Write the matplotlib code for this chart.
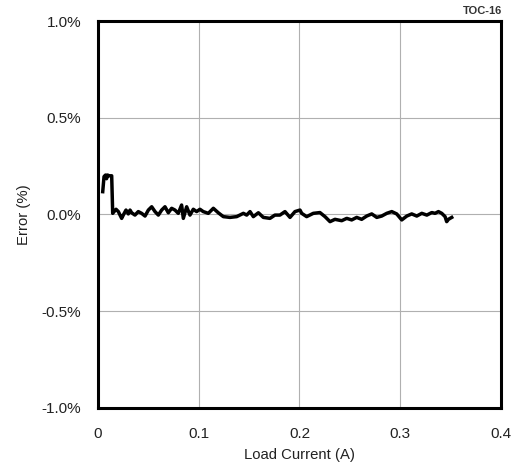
import matplotlib

matplotlib.use("Agg")

import matplotlib.pyplot as plt

plt.rcParams["font.family"] = ["Liberation Sans", "DejaVu Sans"]

# load current (A) and error (%)
current = [
    0.0047, 0.0060, 0.0075, 0.0085, 0.0095, 0.0110, 0.0136, 0.0146,
    0.0179, 0.0202, 0.0235, 0.0251, 0.0278, 0.0301, 0.0318, 0.0334,
    0.0367, 0.0400, 0.0433, 0.0467, 0.0500, 0.0533, 0.0566, 0.0599,
    0.0632, 0.0665, 0.0698, 0.0731, 0.0764, 0.0797, 0.0830, 0.0847,
    0.0880, 0.0913, 0.0946, 0.0979, 0.1012, 0.1045, 0.1095, 0.1145,
    0.1194, 0.1244, 0.1310, 0.1377, 0.1443, 0.1476, 0.1509, 0.1542,
    0.1592, 0.1641, 0.1707, 0.1756, 0.1806, 0.1856, 0.1906, 0.1955,
    0.2005, 0.2022, 0.2071, 0.2137, 0.2203, 0.2253, 0.2303, 0.2352,
    0.2419, 0.2469, 0.2518, 0.2568, 0.2617, 0.2667, 0.2717, 0.2767,
    0.2816, 0.2866, 0.2916, 0.2965, 0.3015, 0.3065, 0.3114, 0.3164,
    0.3214, 0.3264, 0.3313, 0.3346, 0.3379, 0.3412, 0.3445, 0.3461,
    0.3478, 0.3511,
]
error = [
    0.118, 0.196, 0.204, 0.185, 0.204, 0.200, 0.200, 0.006,
    0.027, 0.015, -0.020, -0.003, 0.023, 0.003, 0.023, 0.009,
    -0.003, 0.015, 0.006, -0.008, 0.023, 0.040, 0.015, -0.003,
    0.023, 0.040, 0.009, 0.032, 0.023, 0.006, 0.049, -0.020,
    0.040, -0.003, 0.027, 0.015, 0.027, 0.015, 0.006, 0.032,
    0.009, -0.011, -0.015, -0.011, 0.006, -0.003, 0.015, -0.011,
    0.009, -0.015, -0.020, -0.003, -0.003, 0.015, -0.015, 0.015,
    0.023, 0.006, -0.011, 0.006, 0.010, -0.011, -0.037, -0.025,
    -0.032, -0.020, -0.028, -0.015, -0.025, -0.008, 0.003, -0.015,
    -0.008, 0.006, 0.015, 0.003, -0.028, -0.008, 0.003, -0.008,
    0.006, -0.003, 0.010, 0.006, 0.015, 0.006, -0.011, -0.037,
    -0.025, -0.015,
]

x_ticks = [0, 0.1, 0.2, 0.3, 0.4]
x_labels = ["0", "0.1", "0.2", "0.3", "0.4"]
y_ticks = [1.0, 0.5, 0.0, -0.5, -1.0]
y_labels = ["1.0%", "0.5%", "0.0%", "-0.5%", "-1.0%"]

fig = plt.figure(figsize=(5.19, 4.66), dpi=100)
ax = fig.add_axes([0.1888, 0.1245, 0.7765, 0.8304])

ax.plot(current, error, color="black", linewidth=2.5, solid_joinstyle="round")

ax.set_xlim(0, 0.4)
ax.set_ylim(-1.0, 1.0)
ax.set_xticks(x_ticks)
ax.set_xticklabels(x_labels)
ax.set_yticks(y_ticks)
ax.set_yticklabels(y_labels)
ax.tick_params(length=0, labelsize=11, colors="#222222")
ax.tick_params(axis="y", pad=12)
ax.tick_params(axis="x", pad=14)
ax.grid(color="#b0b0b0", linewidth=0.8)

for spine in ax.spines.values():
    spine.set_linewidth(2.2)
    spine.set_color("black")

ax.set_xlabel("Load Current (A)", fontsize=10.7, labelpad=5, color="#222222")
ax.set_ylabel("Error (%)", fontsize=10.7, labelpad=8, color="#222222")

fig.text(0.967, 0.976, "TOC-16", fontsize=8, fontweight="bold",
         color="#333333", ha="right", va="center")

fig.savefig("out.png")
